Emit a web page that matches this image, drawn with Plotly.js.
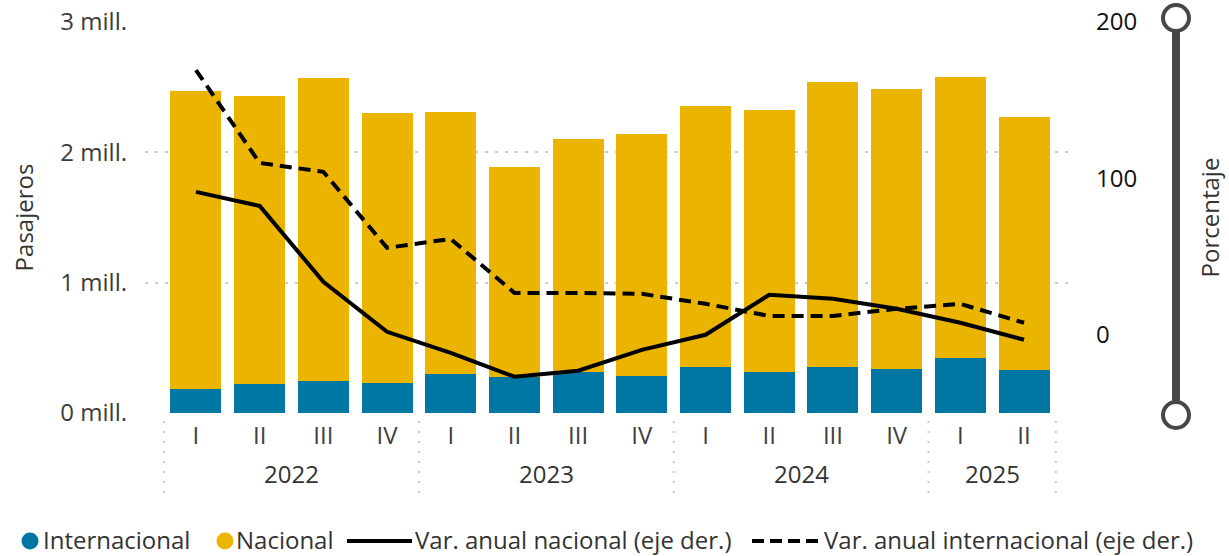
<!DOCTYPE html>
<html><head><meta charset="utf-8">
<script src="https://cdn.plot.ly/plotly-3.0.1.min.js"></script>
<style>html,body{margin:0;padding:0;background:#fff;}#chart{width:1229px;height:556px;}</style>
</head><body><div id="chart"></div>
<script>
// ---- data ----
const years = ['2022','2022','2022','2022','2023','2023','2023','2023','2024','2024','2024','2024','2025','2025'];
const quarters = ['I','II','III','IV','I','II','III','IV','I','II','III','IV','I','II'];
const internacional = [184000, 223000, 246000, 230000, 299000, 276000, 315000, 284000, 353000, 315000, 353000, 338000, 422000, 330000];
const nacional = [2287000, 2209000, 2324000, 2072000, 2011000, 1612000, 1787000, 1857000, 2003000, 2010000, 2187000, 2148000, 2156000, 1941000];
const varNacional = [91.4, 82.4, 33.9, 1.9, -11.5, -26.8, -23.0, -9.6, 0.0, 25.6, 23.0, 16.6, 7.7, -3.2];
const varInternacional = [169.3, 109.9, 104.2, 55.6, 61.3, 26.8, 26.8, 26.2, 19.8, 12.1, 12.1, 16.6, 19.8, 7.7];
const leftTickVals = [0, 1000000, 2000000, 3000000];
const leftTickText = ['0 mill.', '1 mill.', '2 mill.', '3 mill.'];
const rightTickVals = [0, 100, 200];
const seriesNames = ['Internacional', 'Nacional', 'Var. anual nacional (eje der.)', 'Var. anual internacional (eje der.)'];
const yLeftTitle = 'Pasajeros';
const yRightTitle = 'Porcentaje';

// ---- style ----
const TEAL = '#0077A3';
const GOLD = '#EBB400';
const FONT = 'Open Sans, Noto Sans, sans-serif';
const FS = 24;
const W = 1229, H = 556;
const M = {l: 145, r: 154, t: 22, b: 143};
const PW = W - M.l - M.r, PH = H - M.t - M.b;
const px = v => (v - M.l) / PW;
const py = v => (H - M.b - v) / PH;

const cats = years.map((y, i) => y + ' ' + quarters[i]);

const traces = [
  {type: 'bar', name: seriesNames[0], x: cats, y: internacional, marker: {color: TEAL}, showlegend: false, hoverinfo: 'skip'},
  {type: 'bar', name: seriesNames[1], x: cats, y: nacional, marker: {color: GOLD}, showlegend: false, hoverinfo: 'skip'},
  {type: 'scatter', mode: 'lines', name: seriesNames[2], x: cats, y: varNacional, yaxis: 'y2',
   line: {color: '#000', width: 4}, showlegend: false, hoverinfo: 'skip'},
  {type: 'scatter', mode: 'lines', name: seriesNames[3], x: cats, y: varInternacional, yaxis: 'y2',
   line: {color: '#000', width: 4, dash: '12px,7px'}, showlegend: false, hoverinfo: 'skip'}
];

// year labels and dividers
const uniqYears = [...new Set(years)];
const annotations = [];
const shapes = [];
const boundaries = [-0.5];
uniqYears.forEach(yr => {
  const idx = years.map((y, i) => y === yr ? i : -1).filter(i => i >= 0);
  const mid = (idx[0] + idx[idx.length - 1]) / 2;
  annotations.push({xref: 'x', yref: 'paper', x: mid, y: py(474), text: yr, showarrow: false,
    xanchor: 'center', yanchor: 'middle', font: {family: FONT, size: FS, color: '#333'}});
  boundaries.push(idx[idx.length - 1] + 0.5);
});
boundaries.forEach(b => {
  shapes.push({type: 'line', xref: 'x', yref: 'paper', x0: b, x1: b, y0: py(421), y1: py(500),
    line: {color: '#c8c8c8', width: 2, dash: '2px,8px'}});
});

// legend (manual, Power BI style)
const LY = py(539);
function legCircle(cx, color) {
  shapes.push({type: 'circle', xref: 'paper', yref: 'paper', xsizemode: 'pixel', ysizemode: 'pixel',
    xanchor: px(cx), yanchor: py(541), x0: -8.5, x1: 8.5, y0: -8.5, y1: 8.5, fillcolor: color, line: {width: 0}});
}
function legLine(x0, x1, dash) {
  shapes.push({type: 'line', xref: 'paper', yref: 'paper', x0: px(x0), x1: px(x1), y0: py(541), y1: py(541),
    line: {color: '#000', width: 4, dash: dash || 'solid'}});
}
function legText(x, t) {
  annotations.push({xref: 'paper', yref: 'paper', x: px(x), y: LY, text: t, showarrow: false,
    xanchor: 'left', yanchor: 'middle', borderpad: 0, borderwidth: 0, font: {family: FONT, size: FS, color: '#333'}});
}
legCircle(30, TEAL); legText(43, seriesNames[0]);
legCircle(225, GOLD); legText(236, seriesNames[1]);
legLine(347, 412); legText(415, seriesNames[2]);
legLine(752, 820, '12px,6px'); legText(824, seriesNames[3]);

// zoom-slider decoration on the right
const SX = px(1176);
shapes.push({type: 'line', xref: 'paper', yref: 'paper', x0: SX, x1: SX, y0: py(18), y1: py(415),
  line: {color: '#474747', width: 8}});
[18, 415].forEach(cy => {
  shapes.push({type: 'circle', xref: 'paper', yref: 'paper', xsizemode: 'pixel', ysizemode: 'pixel',
    xanchor: SX, yanchor: py(cy), x0: -13, x1: 13, y0: -13, y1: 13, fillcolor: '#fff', line: {color: '#474747', width: 4}});
});

const layout = {
  width: W, height: H,
  margin: M,
  paper_bgcolor: '#fff', plot_bgcolor: '#fff',
  font: {family: FONT, size: FS, color: '#333'},
  barmode: 'stack', bargap: 0.2,
  showlegend: false,
  xaxis: {type: 'category', range: [-0.8, 13.8], tickvals: cats, ticktext: quarters,
    showgrid: false, zeroline: false, showline: false, ticks: '', ticklabelstandoff: 6,
    tickfont: {family: FONT, size: FS, color: '#404040'}, fixedrange: true},
  yaxis: {range: [0, 3000000], tickvals: leftTickVals, ticktext: leftTickText,
    showgrid: true, gridcolor: '#cccccc', gridwidth: 2, griddash: '3px,7px',
    zeroline: false, showline: false, ticks: '', ticklabelstandoff: 17,
    tickfont: {family: FONT, size: FS, color: '#3c3c3c'},
    title: {text: yLeftTitle, standoff: 19, font: {family: FONT, size: FS, color: '#333'}}, fixedrange: true},
  yaxis2: {overlaying: 'y', side: 'right', range: [-50, 200], tickvals: rightTickVals,
    showgrid: false, zeroline: false, showline: false, ticks: '', ticklabelstandoff: 20,
    tickfont: {family: FONT, size: FS, color: '#111'},
    title: {text: yRightTitle, standoff: 66, font: {family: FONT, size: FS, color: '#333'}}, fixedrange: true},
  annotations: annotations,
  shapes: shapes
};

Plotly.newPlot('chart', traces, layout, {displayModeBar: false, staticPlot: true});
</script>
</body></html>
